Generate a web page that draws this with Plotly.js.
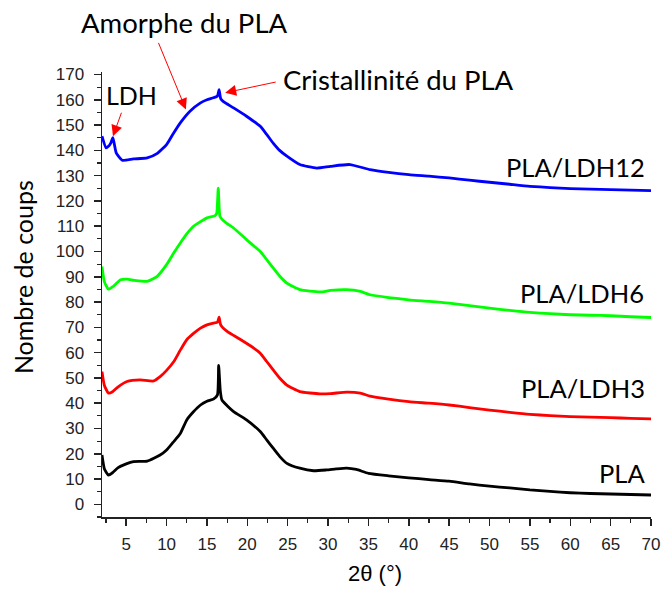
<!DOCTYPE html>
<html>
<head>
<meta charset="utf-8">
<script src="https://cdn.plot.ly/plotly-3.0.1.min.js"></script>
<style>html,body{margin:0;padding:0;background:#fff;}#chart{width:662px;height:590px;}</style>
</head>
<body>
<div id="chart"></div>
<script>
// 2θ positions (°) and counts
const plaX = [2.0,2.3,2.8,3.3,4.0,5.0,5.9,7.6,9.2,10.0,10.8,11.7,12.5,13.3,14.2,15.0,15.8,16.3,16.45,16.65,16.85,17.5,18.3,19.9,21.6,22.4,23.2,24.0,24.9,26.5,28.2,29.8,31.0,32.3,33.5,35.0,37.5,40,42.5,45,47.5,50,52.5,55,57.5,60,62.5,65,67.5,70];
const plaY = [19.5,14,11.6,12.5,14.5,16,16.9,17.1,19.5,21.5,24.5,28,33.4,36.5,39.3,40.8,41.6,43.3,55,45,41.3,39,36.7,33.4,28.8,25.5,22.2,19,16.2,14.3,13.3,13.6,14,14.3,13.8,12.3,11.3,10.5,9.8,9.2,8.1,7.2,6.5,5.7,5.1,4.6,4.3,4.1,3.9,3.7];

const ldh3X = [2.0,2.3,2.8,3.3,4.0,5.1,6.7,8.4,9.2,10.0,10.9,11.7,12.5,13.3,14.2,15.0,15.8,16.3,16.5,16.7,17.5,19.1,20.8,21.6,22.4,23.2,24.0,24.9,26.5,29.0,30.3,32.3,34.0,35.2,37.5,40,42.5,45,47.5,50,52.5,55,57.5,60,62.5,65,67.5,70];
const ldh3Y = [52.5,47,44,44.5,46.5,48.6,49.2,48.8,50.5,53,56.5,61,65.1,67.5,69.7,71,71.7,72,74,71,68.4,65.3,61.8,59.8,56.5,53.2,50,47.2,44.6,43.7,43.8,44.4,44,42.8,41.6,40.6,40,39.3,38.3,37.3,36.4,35.6,35.1,34.7,34.5,34.3,34.0,33.8];

const ldh6X = [2.0,2.3,2.8,3.3,4.3,5.1,6.0,7.6,8.8,10.0,10.8,11.7,12.5,13.3,14.2,15.0,16.0,16.2,16.4,16.6,16.9,17.5,18.3,19.9,21.6,22.4,23.2,24.0,24.9,26.5,29.0,30.3,32.3,34.0,35.2,37.5,40,42.5,45,47.5,50,52.5,55,57.5,60,62.5,65,67.5,70];
const ldh6Y = [94.1,88,85.1,86,88.8,89.1,88.6,88.2,90.1,94.8,99,103.4,107,109.9,111.8,113.3,114.2,115,125.1,114,112.6,111,109.3,104.7,100,96.8,93.5,90.3,87.5,84.9,84,84.6,84.9,84.2,82.9,81.8,80.9,80.3,79.6,78.6,77.6,76.7,75.9,75.4,75,74.8,74.6,74.2,73.9];

const ldh12X = [2.0,2.5,2.8,3.1,3.35,3.76,4.5,5.9,7.6,8.8,10.0,10.8,11.7,12.9,14.2,15.0,15.8,16.3,16.5,16.7,17.0,18.3,19.9,21.6,22.4,23.2,24.0,24.9,26.5,28.6,30.3,32.7,35.2,37.5,40,42.5,45,47.5,50,52.5,55,57.5,60,62.5,65,67.5,70];
const ldh12Y = [145.6,141,141.6,143,145,139,136.1,136.6,137,138.7,142.3,146.5,150.9,155.5,158.8,160,160.8,161.5,164,160.5,159.4,156.8,153.5,149.5,146.3,142.9,140,137.7,134.4,133,133.7,134.4,132.4,131.3,130.4,129.8,129.1,128.2,127.4,126.6,125.8,125.3,124.9,124.7,124.5,124.3,124.1];

const seriesNames = ["PLA","PLA/LDH3","PLA/LDH6","PLA/LDH12"];
const xTickVals = [5,10,15,20,25,30,35,40,45,50,55,60,65,70];
const yTickVals = [0,10,20,30,40,50,60,70,80,90,100,110,120,130,140,150,160,170];

const lineW = 2.8;
const traces = [
  {x: plaX, y: plaY, name: seriesNames[0], line: {color: '#000000', width: lineW, shape: 'spline', smoothing: 0.5}},
  {x: ldh3X, y: ldh3Y, name: seriesNames[1], line: {color: '#ff0000', width: lineW, shape: 'spline', smoothing: 0.5}},
  {x: ldh6X, y: ldh6Y, name: seriesNames[2], line: {color: '#00ff00', width: lineW, shape: 'spline', smoothing: 0.5}},
  {x: ldh12X, y: ldh12Y, name: seriesNames[3], line: {color: '#0000ff', width: lineW, shape: 'spline', smoothing: 0.5}}
].map(t => Object.assign({type: 'scatter', mode: 'lines', hoverinfo: 'skip'}, t));

const txtFont = {family: 'Lato, "Open Sans", sans-serif', size: 27.5, color: '#000'};
const ldhFont = {family: 'Lato, "Open Sans", sans-serif', size: 25, color: '#000'};
const lblFont = {family: 'Lato, "Open Sans", sans-serif', size: 25.5, color: '#000'};
const yTitleFont = {family: 'Lato, "Open Sans", sans-serif', size: 25, color: '#000'};
const xTitleFont = {family: '"Liberation Sans", Arial, sans-serif', size: 22, color: '#000'};

const annotations = [
  {xref: 'paper', yref: 'paper', x: 0.151, y: 1.112, text: 'Amorphe du PLA', showarrow: false, xanchor: 'center', yanchor: 'middle', font: txtFont},
  {xref: 'paper', yref: 'paper', x: 0.326, y: 0.984, text: 'Cristallinité du PLA', showarrow: false, xanchor: 'left', yanchor: 'middle', font: txtFont},
  {xref: 'paper', yref: 'paper', x: 0.004, y: 0.948, text: 'LDH', showarrow: false, xanchor: 'left', yanchor: 'middle', font: ldhFont},
  {xref: 'paper', yref: 'paper', x: 0.992, y: 0.787, text: seriesNames[3], showarrow: false, xanchor: 'right', yanchor: 'middle', font: lblFont},
  {xref: 'paper', yref: 'paper', x: 0.990, y: 0.503, text: seriesNames[2], showarrow: false, xanchor: 'right', yanchor: 'middle', font: lblFont},
  {xref: 'paper', yref: 'paper', x: 0.992, y: 0.290, text: seriesNames[1], showarrow: false, xanchor: 'right', yanchor: 'middle', font: lblFont},
  {xref: 'paper', yref: 'paper', x: 0.992, y: 0.099, text: seriesNames[0], showarrow: false, xanchor: 'right', yanchor: 'middle', font: lblFont},
  {xref: 'paper', yref: 'paper', x: -0.144, y: 0.539, text: 'Nombre de coups', showarrow: false, textangle: -90, xanchor: 'center', yanchor: 'middle', font: yTitleFont},
  {xref: 'paper', yref: 'paper', x: 0.498, y: -0.126, text: '2θ (°)', showarrow: false, xanchor: 'center', yanchor: 'middle', font: xTitleFont},
  // arrows
  {xref: 'x', yref: 'y', x: 12.39, y: 156.2, ax: -28, ay: -68, text: '', showarrow: true, arrowhead: 2, arrowsize: 2.2, arrowwidth: 1, arrowcolor: '#ff0000'},
  {xref: 'x', yref: 'y', x: 17.26, y: 162.8, ax: 52, ay: -11, text: '', showarrow: true, arrowhead: 2, arrowsize: 2.2, arrowwidth: 1, arrowcolor: '#ff0000'},
  {xref: 'x', yref: 'y', x: 3.36, y: 145.6, ax: 9, ay: -25, text: '', showarrow: true, arrowhead: 2, arrowsize: 2.2, arrowwidth: 1, arrowcolor: '#ff0000'}
];

const tickFont = {family: '"Liberation Sans", Arial, sans-serif', size: 17, color: '#222'};

const layout = {
  width: 662, height: 590,
  margin: {l: 102, r: 11, t: 72, b: 73},
  paper_bgcolor: '#fff', plot_bgcolor: '#fff',
  showlegend: false,
  xaxis: {
    range: [2, 70], tickmode: 'array', tickvals: xTickVals,
    ticks: 'outside', ticklen: 7, tickwidth: 1.5, tickcolor: '#222',
    showline: true, linecolor: '#222', linewidth: 1.5, showgrid: false, zeroline: false,
    tickfont: tickFont, ticklabelstandoff: 4,
    minor: {ticks: 'outside', ticklen: 4, tickwidth: 1.2, tickcolor: '#222', dtick: 5, tick0: 2.5, showgrid: false}
  },
  yaxis: {
    range: [-5, 171], tickmode: 'array', tickvals: yTickVals,
    ticks: 'outside', ticklen: 7, tickwidth: 1.5, tickcolor: '#222',
    showline: true, linecolor: '#222', linewidth: 1.5, showgrid: false, zeroline: false,
    tickfont: tickFont, ticklabelstandoff: 6,
    minor: {ticks: 'outside', ticklen: 4, tickwidth: 1.2, tickcolor: '#222', dtick: 5, tick0: 5, showgrid: false}
  },
  annotations: annotations
};

Plotly.newPlot('chart', traces, layout, {staticPlot: true, displayModeBar: false});
</script>
</body>
</html>
